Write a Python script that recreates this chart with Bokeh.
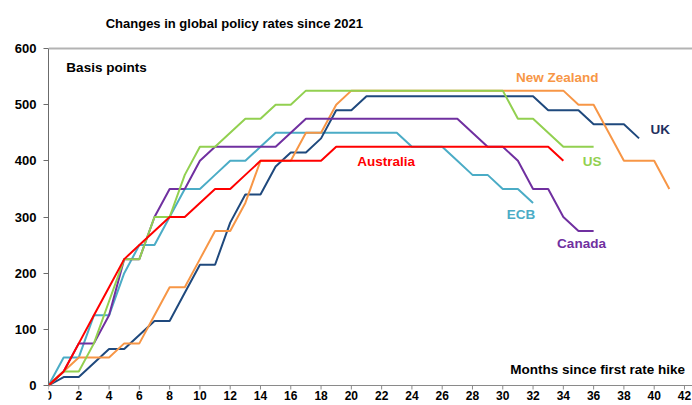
from bokeh.plotting import figure
from bokeh.models import Span, FixedTicker, Range1d, Label
from bokeh.core.properties import value
from bokeh.embed import file_html
from bokeh.resources import INLINE

# ---- data (basis points, by months since first rate hike) ----
australia = [0, 25, 75, 125, 175, 225, 250, 275, 300, 300, 325, 350, 350, 375, 400, 400, 400, 400, 400,
             425, 425, 425, 425, 425, 425, 425, 425, 425, 425, 425, 425, 425, 425, 425, 400]
us = [0, 25, 25, 75, 150, 225, 225, 300, 300, 375, 425, 425, 450, 475, 475, 500, 500, 525,
      525, 525, 525, 525, 525, 525, 525, 525, 525, 525, 525, 525, 525, 475, 475, 450, 425, 425, 425]
canada = [0, 25, 75, 75, 125, 225, 225, 300, 350, 350, 400, 425, 425, 425, 425, 425, 450, 475,
          475, 475, 475, 475, 475, 475, 475, 475, 475, 475, 450, 425, 425, 400, 350, 350, 300, 275, 275]
ecb = [0, 50, 50, 125, 125, 200, 250, 250, 300, 350, 350, 375, 400, 400, 425, 450,
       450, 450, 450, 450, 450, 450, 450, 450, 425, 425, 425, 400, 375, 375, 350, 350, 325]
new_zealand = [0, 25, 50, 50, 50, 75, 75, 125, 175, 175, 225, 275, 275, 325, 400, 400, 400, 450, 450, 500, 525,
               525, 525, 525, 525, 525, 525, 525, 525, 525, 525, 525, 525, 525, 525,
               500, 500, 450, 400, 400, 400, 350]
uk = [0, 15, 15, 40, 65, 65, 90, 115, 115, 165, 215, 215, 290, 340, 340, 390, 415, 415, 440, 490, 490, 515,
      515, 515, 515, 515, 515, 515, 515, 515, 515, 515, 515, 490, 490, 490, 465, 465, 465, 440]

y_ticks = [0, 100, 200, 300, 400, 500, 600]
x_ticks = list(range(0, 43, 2))
x_tick_labels = [str(t) for t in x_ticks]

title_text = "Changes in global policy rates since 2021"
y_title = "Basis points"
x_title = "Months since first rate hike"

series = [
    ("ECB", ecb, "#4bacc6"),
    ("UK", uk, "#1f497d"),
    ("New Zealand", new_zealand, "#f79646"),
    ("Canada", canada, "#7030a0"),
    ("US", us, "#92d050"),
    ("Australia", australia, "#ff0000"),
]

# label placement (data coords) and colours
label_specs = [
    ("New Zealand", 33.6, 549, "#f79646"),
    ("UK", 40.4, 456, "#1f3060"),
    ("US", 35.9, 398, "#92d050"),
    ("Australia", 22.3, 398, "#ff0000"),
    ("ECB", 31.2, 305, "#4bacc6"),
    ("Canada", 35.2, 252, "#7030a0"),
]

FONT = "Liberation Sans"
PX_PER_UNIT_Y = (385 - 48) / 600.0
X_END = 42.53

p = figure(width=692, height=405, output_backend="svg", toolbar_location=None,
           x_range=Range1d(0, X_END), y_range=Range1d(-20 / PX_PER_UNIT_Y, 600 + 48 / PX_PER_UNIT_Y),
           min_border_left=48, min_border_right=0, min_border_top=0, min_border_bottom=0)
p.outline_line_color = None
p.grid.visible = False
p.xaxis.visible = False
p.background_fill_color = "white"
p.border_fill_color = "white"

ya = p.yaxis[0]
ya.ticker = FixedTicker(ticks=y_ticks)
ya.bounds = (0, 600)
ya.axis_line_color = "#6b6b6b"
ya.axis_line_width = 1
ya.major_tick_line_color = "#6b6b6b"
ya.major_tick_out = 5
ya.major_tick_in = 0
ya.minor_tick_line_color = None
ya.major_label_standoff = 7
ya.major_label_text_font = FONT
ya.major_label_text_font_style = "bold"
ya.major_label_text_font_size = "13px"
ya.major_label_text_color = "black"

# top border line at 600 and x-axis line at 0
p.add_layout(Span(location=600, dimension="width", line_color="#b3b3b3", line_width=2))
p.add_layout(Span(location=0, dimension="width", line_color="#8a8a8a", line_width=1))

# x-axis ticks and labels
tick_len = 4 / PX_PER_UNIT_Y
p.segment(x0=x_ticks, y0=[0] * len(x_ticks), x1=x_ticks, y1=[-tick_len] * len(x_ticks),
          line_color="#8a8a8a", line_width=1)
p.text(x=x_ticks, y=[-5 / PX_PER_UNIT_Y] * len(x_ticks), text=x_tick_labels,
       text_align="center", text_baseline="top", text_font=value(FONT),
       text_font_style="bold", text_font_size="12px", text_color="black")

for name, vals, color in series:
    p.line(x=list(range(len(vals))), y=vals, line_color=color, line_width=2)

for name, lx, ly, color in label_specs:
    p.add_layout(Label(x=lx, y=ly, text=name, text_align="center", text_baseline="middle",
                       text_font=FONT, text_font_style="bold", text_font_size="13.5px",
                       text_color=color))

p.add_layout(Label(x=1.18, y=566.7, text=y_title, text_align="left", text_baseline="middle",
                   text_font=FONT, text_font_style="bold", text_font_size="13.5px", text_color="black"))
p.add_layout(Label(x=42.04, y=28, text=x_title, text_align="right", text_baseline="middle",
                   text_font=FONT, text_font_style="bold", text_font_size="13.5px", text_color="black"))
p.add_layout(Label(x=12.27, y=644.5, text=title_text, text_align="center", text_baseline="middle",
                   text_font=FONT, text_font_style="bold", text_font_size="13px", text_color="black"))

open("out.html", "w").write(file_html(p, INLINE))
